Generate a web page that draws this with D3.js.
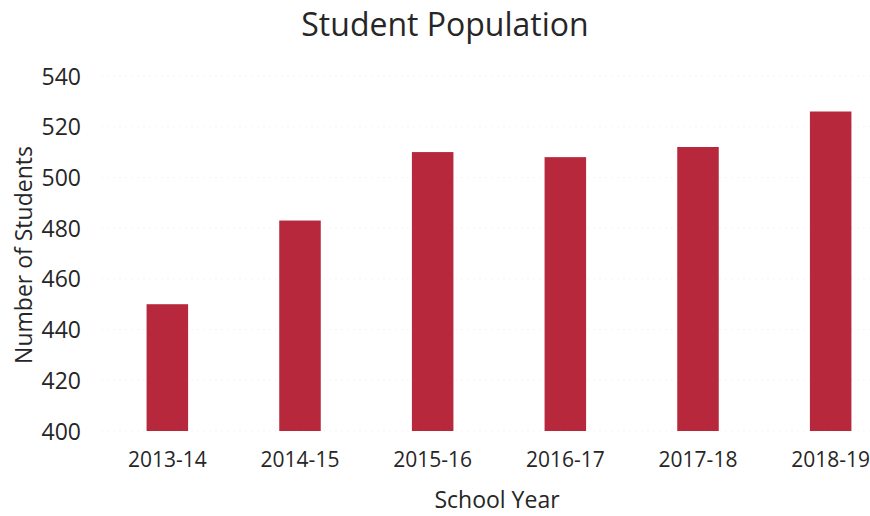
<!DOCTYPE html>
<html>
<head>
<meta charset="utf-8">
<script src="https://cdn.jsdelivr.net/npm/d3@7"></script>
<style>
  html, body { margin: 0; padding: 0; background: #fff; }
  svg { display: block; }
  text { font-family: "Open Sans", sans-serif; fill: #262626; }
</style>
</head>
<body>
<svg id="chart" width="870" height="516"></svg>
<script>
const categories = ["2013-14", "2014-15", "2015-16", "2016-17", "2017-18", "2018-19"];
const students = [450, 483, 510, 508, 512, 526];
const yTicks = [400, 420, 440, 460, 480, 500, 520, 540];

const svg = d3.select("#chart");

const x = d3.scaleBand()
  .domain(categories)
  .range([101, 897])
  .paddingInner(0.687)
  .paddingOuter(0.3435);

const y = d3.scaleLinear()
  .domain([400, 540])
  .range([431, 76]);

// gridlines
svg.append("g")
  .selectAll("line")
  .data(yTicks)
  .join("line")
  .attr("x1", 101).attr("x2", 870)
  .attr("y1", d => y(d)).attr("y2", d => y(d))
  .attr("stroke", "#f5f5f5")
  .attr("stroke-width", 1)
  .attr("stroke-dasharray", "2,4");

// bars
svg.append("g")
  .selectAll("rect")
  .data(categories.map((c, i) => ({ c, v: students[i] })))
  .join("rect")
  .attr("x", d => x(d.c))
  .attr("width", x.bandwidth())
  .attr("y", d => y(d.v))
  .attr("height", d => y(400) - y(d.v))
  .attr("fill", "#b7283d");

// y axis
const yAxis = svg.append("g")
  .attr("transform", "translate(81,0)")
  .call(d3.axisLeft(y).tickValues(yTicks).tickSize(0).tickPadding(0));
yAxis.select(".domain").remove();
yAxis.selectAll("text")
  .style("font-size", "23px")
  .style("font-family", "'Open Sans', sans-serif")
  .attr("fill", "#262626")
  .attr("dy", "0.35em");

// x axis
const xAxis = svg.append("g")
  .attr("transform", "translate(0,452)")
  .call(d3.axisBottom(x).tickSize(0).tickPadding(0));
xAxis.select(".domain").remove();
xAxis.selectAll("text")
  .style("font-size", "21px")
  .style("font-family", "'Open Sans', sans-serif")
  .attr("fill", "#262626")
  .attr("dy", "0.71em");

// title
svg.append("text")
  .attr("x", 445).attr("y", 36)
  .attr("text-anchor", "middle")
  .style("font-size", "32px")
  .text("Student Population");

// axis titles
svg.append("text")
  .attr("x", 497).attr("y", 508)
  .attr("text-anchor", "middle")
  .style("font-size", "23px")
  .text("School Year");

svg.append("text")
  .attr("transform", "translate(32,255) rotate(-90)")
  .attr("text-anchor", "middle")
  .style("font-size", "23px")
  .text("Number of Students");
</script>
</body>
</html>
